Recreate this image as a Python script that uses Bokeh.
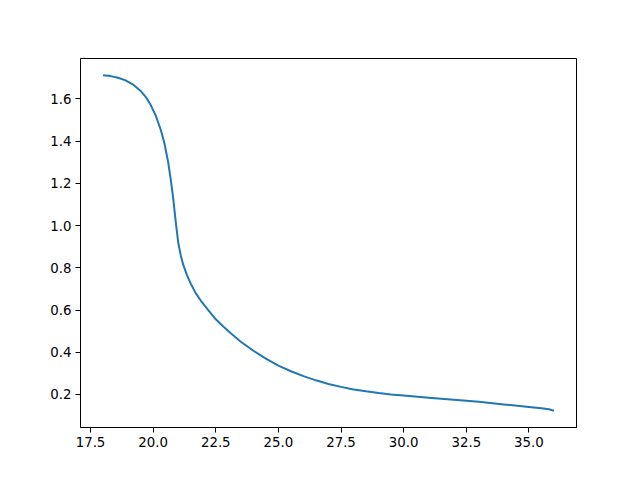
from bokeh.plotting import figure
from bokeh.models import Range1d, FixedTicker, NumeralTickFormatter
from bokeh.embed import file_html
from bokeh.resources import INLINE

x_values = [18.0, 18.3, 18.6, 18.9, 19.2, 19.5, 19.7, 19.9, 20.1, 20.3, 20.45, 20.6,
            20.7, 20.8, 20.9, 21.0, 21.1, 21.2, 21.35, 21.5, 21.7, 21.9, 22.2, 22.5,
            22.8, 23.1, 23.5, 24.0, 24.5, 25.0, 25.5, 26.0, 26.5, 27.0, 27.5, 28.0,
            28.5, 29.0, 29.5, 30.0, 31.0, 32.0, 33.0, 34.0, 35.0, 35.5, 35.8, 36.0]
y_values = [1.712, 1.708, 1.700, 1.688, 1.668, 1.638, 1.610, 1.572, 1.522, 1.455, 1.39, 1.30,
            1.22, 1.13, 1.02, 0.92, 0.86, 0.815, 0.765, 0.725, 0.68, 0.645, 0.60, 0.556,
            0.522, 0.49, 0.45, 0.407, 0.37, 0.337, 0.31, 0.287, 0.267, 0.25, 0.236, 0.224,
            0.215, 0.207, 0.200, 0.195, 0.185, 0.175, 0.165, 0.153, 0.141, 0.135, 0.130, 0.123]
x_ticks = [17.5, 20.0, 22.5, 25.0, 27.5, 30.0, 32.5, 35.0]
y_ticks = [0.2, 0.4, 0.6, 0.8, 1.0, 1.2, 1.4, 1.6]

xpad = (max(x_values) - min(x_values)) * 0.05
ypad = (max(y_values) - min(y_values)) * 0.05

p = figure(width=632, height=472, output_backend="svg", toolbar_location=None,
           x_range=Range1d(min(x_values) - xpad, max(x_values) + xpad),
           y_range=Range1d(min(y_values) - ypad, max(y_values) + ypad),
           frame_width=496, frame_height=369,
           min_border_left=80, min_border_top=58, min_border_right=56, min_border_bottom=45)

p.line(x_values, y_values, line_color="#1f77b4", line_width=2)

p.xgrid.visible = False
p.ygrid.visible = False
p.outline_line_color = "black"
p.outline_line_width = 1
p.outline_line_alpha = 1.0

p.xaxis.ticker = FixedTicker(ticks=x_ticks)
p.yaxis.ticker = FixedTicker(ticks=y_ticks)
p.xaxis.formatter = NumeralTickFormatter(format="0.0")
p.yaxis.formatter = NumeralTickFormatter(format="0.0")
for ax in (p.xaxis, p.yaxis):
    ax.major_label_text_font = "DejaVu Sans"
    ax.major_label_text_font_size = "13.33px"
    ax.major_label_text_color = "black"
    ax.axis_line_color = "black"
    ax.major_tick_line_color = "black"
    ax.major_tick_out = 5
    ax.major_tick_in = 0
    ax.minor_tick_line_color = None
    ax.major_label_standoff = 4

p.background_fill_color = "white"
p.border_fill_color = "white"

open("out.html", "w").write(file_html(p, INLINE))
